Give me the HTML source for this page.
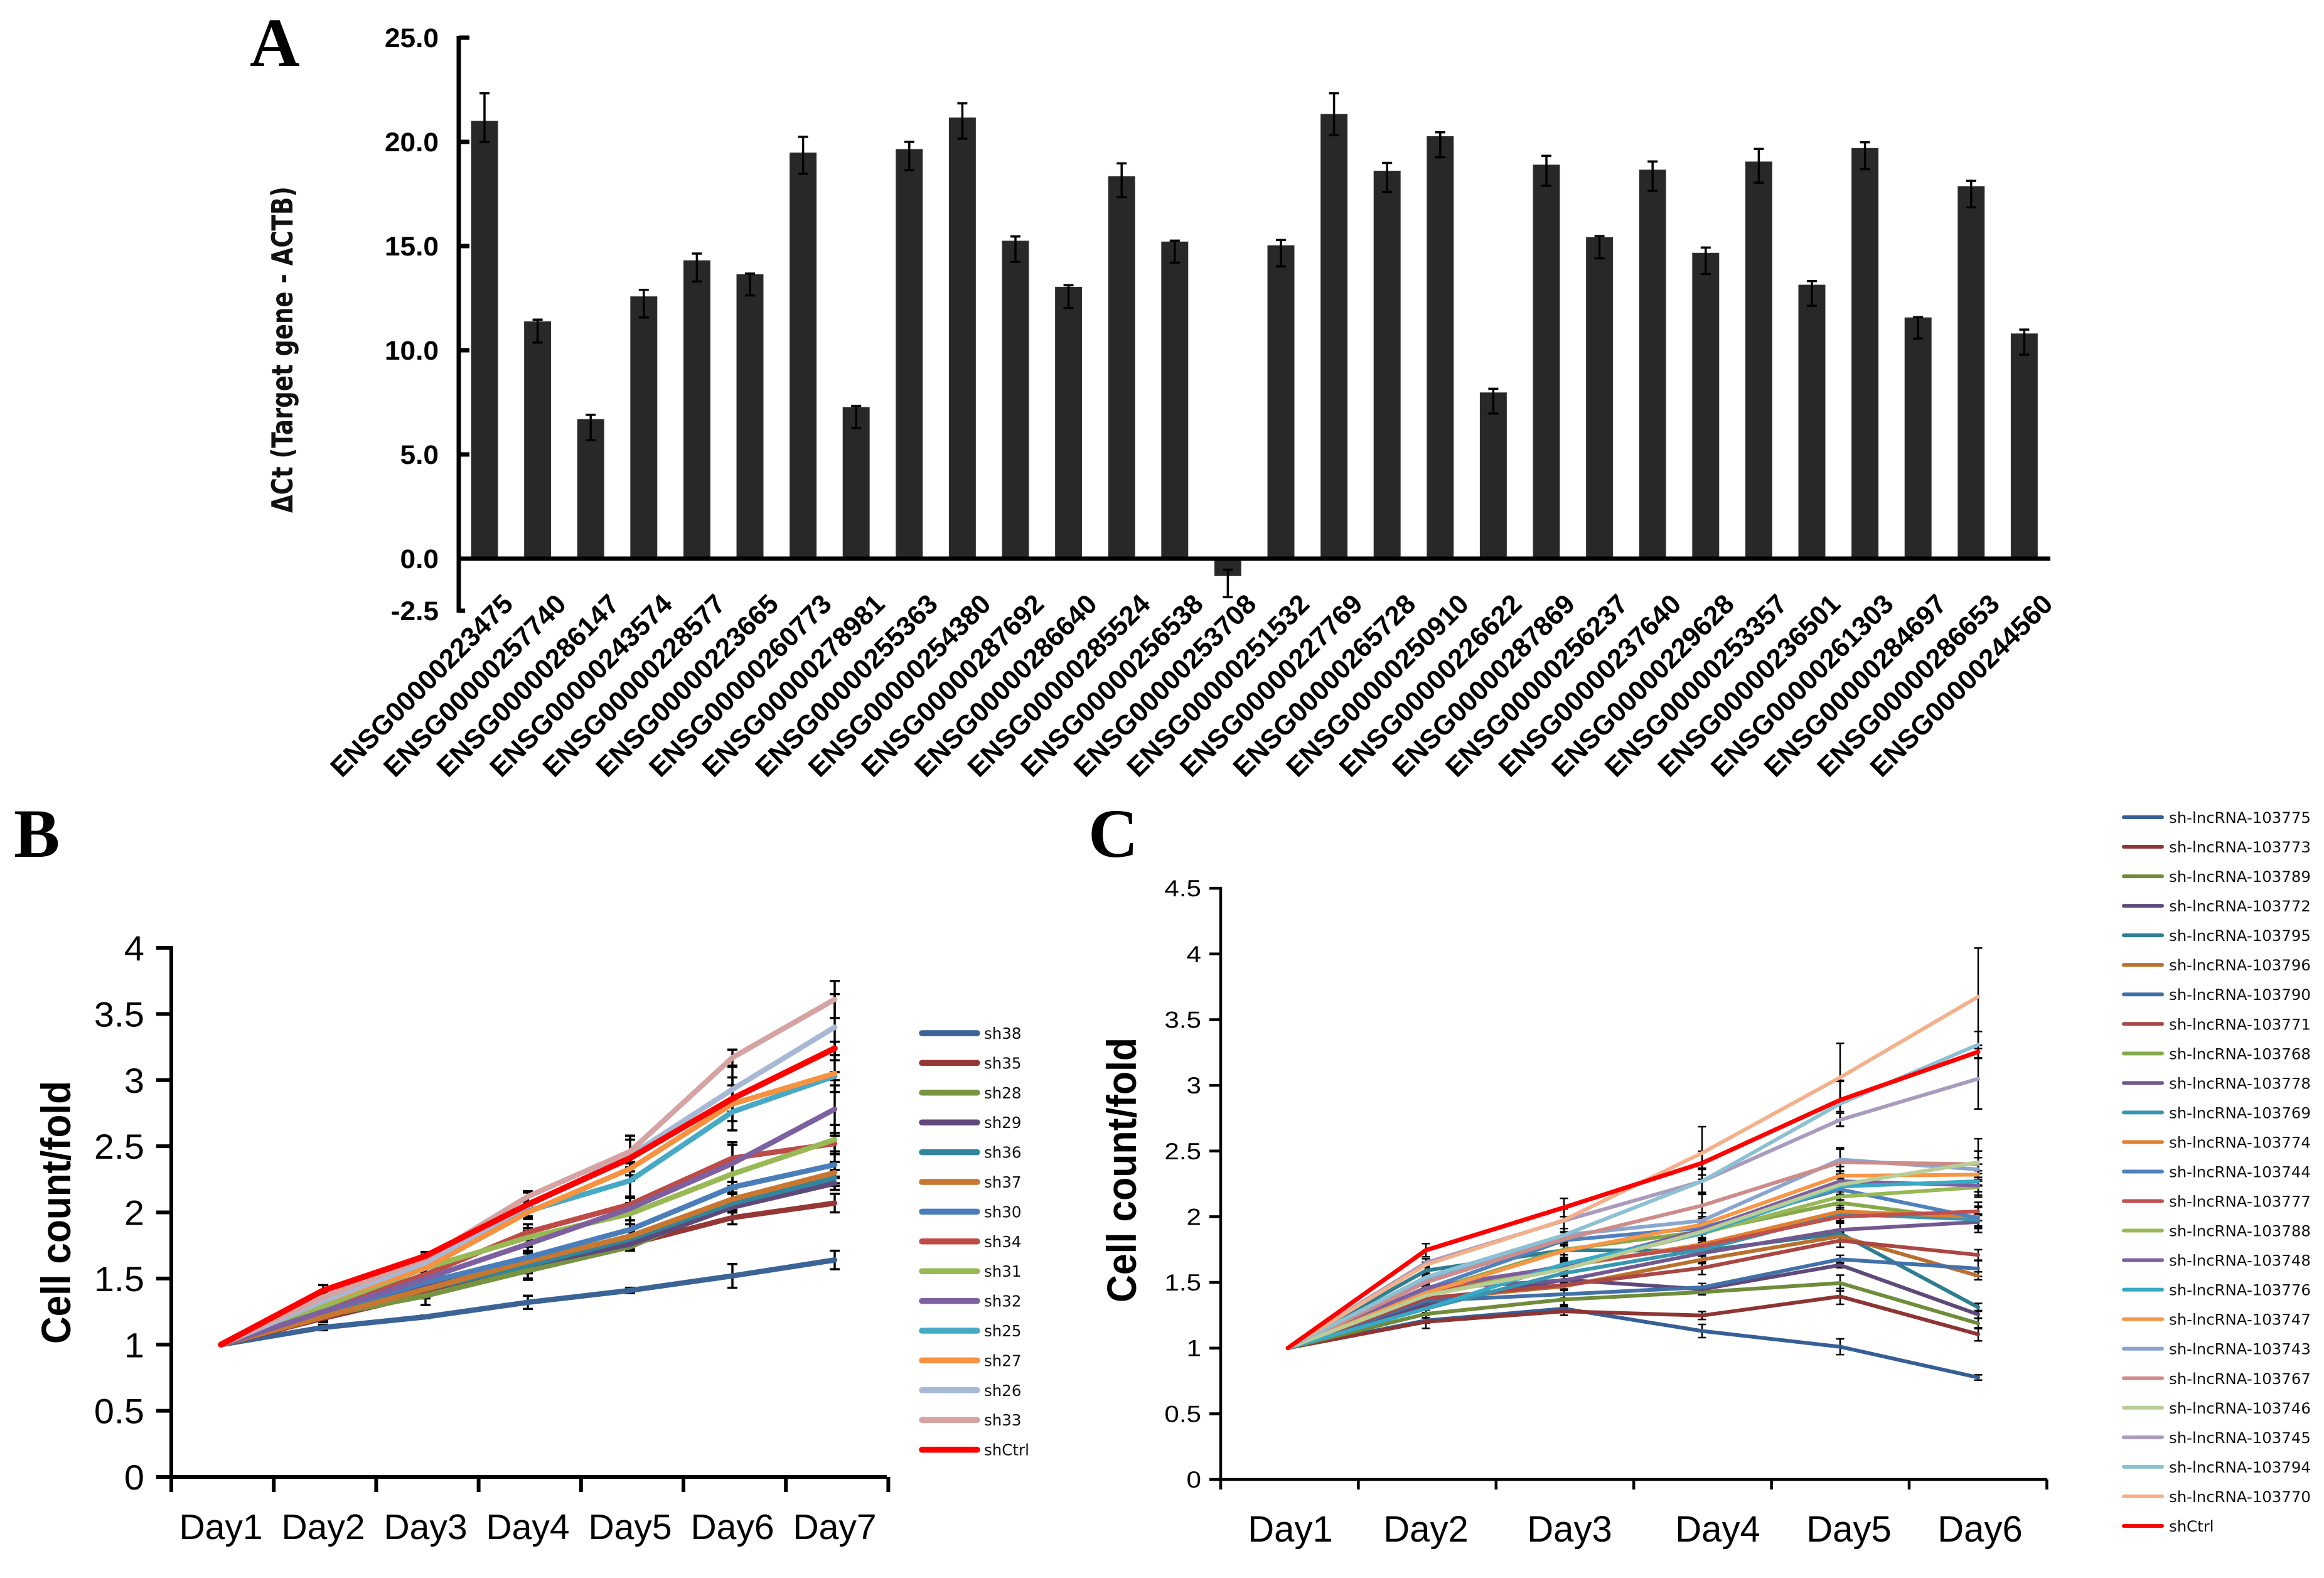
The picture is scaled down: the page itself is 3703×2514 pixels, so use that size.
<!DOCTYPE html>
<html lang="en">
<head>
<meta charset="utf-8">
<title>Panels A, B and C: lncRNA expression and cell growth</title>
<style>
html,body{margin:0;padding:0;background:#fff;}
svg{display:block;font-family:"Liberation Sans",Arial,sans-serif;}
</style>
</head>
<body>
<svg id="fig" xmlns="http://www.w3.org/2000/svg" width="3703" height="2514" viewBox="0 0 3703 2514">
  <rect x="0" y="0" width="3703" height="2514" fill="#fff"/>
  <g font-family="'Liberation Serif',serif" font-weight="bold" font-size="110" fill="#000">
    <text x="398" y="105">A</text>
    <text x="22" y="1365">B</text>
    <text x="1734" y="1365">C</text>
  </g>
  <text transform="translate(466,817) rotate(-90)" font-size="46" font-weight="bold" fill="#111" textLength="520" lengthAdjust="spacingAndGlyphs" font-family="'DejaVu Sans','Liberation Sans',sans-serif">ΔCt (Target gene - ACTB)</text>
  <text transform="translate(112,2141) rotate(-90)" font-size="66" font-weight="bold" fill="#000" textLength="419" lengthAdjust="spacingAndGlyphs">Cell count/fold</text>
  <text transform="translate(1810,2075) rotate(-90)" font-size="66" font-weight="bold" fill="#000" textLength="422" lengthAdjust="spacingAndGlyphs">Cell count/fold</text>
  <g font-size="58" fill="#000" text-anchor="middle">
    <text x="2056" y="2456">Day1</text>
    <text x="2272" y="2456">Day2</text>
    <text x="2501" y="2456">Day3</text>
    <text x="2737" y="2456">Day4</text>
    <text x="2946" y="2456">Day5</text>
    <text x="3155" y="2456">Day6</text>
  </g>
  <g id="panelA"></g>
  <g id="panelB"></g>
  <g id="panelC"></g>
</svg>
<script>
/* ---------- Panel A data ---------- */
const genesA = ["ENSG00000223475","ENSG00000257740","ENSG00000286147","ENSG00000243574","ENSG00000228577","ENSG00000223665","ENSG00000260773","ENSG00000278981","ENSG00000255363","ENSG00000254380","ENSG00000287692","ENSG00000286640","ENSG00000285524","ENSG00000256538","ENSG00000253708","ENSG00000251532","ENSG00000227769","ENSG00000265728","ENSG00000250910","ENSG00000226622","ENSG00000287869","ENSG00000256237","ENSG00000237640","ENSG00000229628","ENSG00000253357","ENSG00000236501","ENSG00000261303","ENSG00000284697","ENSG00000286653","ENSG00000244560"];
const deltaCt = [20.99,11.37,6.68,12.57,14.3,13.63,19.47,7.26,19.64,21.15,15.24,13.03,18.34,15.2,-0.82,15.02,21.32,18.6,20.26,7.96,18.89,15.41,18.65,14.66,19.04,13.13,19.69,11.56,17.86,10.79];
const errUpperA = [1.34,0.1,0.22,0.33,0.34,0.05,0.77,0.07,0.36,0.7,0.22,0.09,0.63,0.06,0.29,0.27,1.01,0.39,0.2,0.19,0.44,0.07,0.41,0.27,0.62,0.19,0.29,0.03,0.27,0.2];
const errLowerA = [1.0,1.0,1.0,1.0,1.0,1.0,1.0,1.0,1.0,1.0,1.0,1.0,1.0,1.0,1.03,1.0,1.0,1.0,1.0,1.0,1.0,1.0,1.0,1.0,1.0,1.0,1.0,1.0,1.0,1.0];
const ticksA = [25,20,15,10,5,0,-2.5];
const tickLabelsA = ["25.0","20.0","15.0","10.0","5.0","0.0","-2.5"];

/* ---------- Panel B data ---------- */
const daysB = ["Day1","Day2","Day3","Day4","Day5","Day6","Day7"];
const ticksB = [0,0.5,1,1.5,2,2.5,3,3.5,4];
const tickLabelsB = ["0","0.5","1","1.5","2","2.5","3","3.5","4"];
const namesB = ["sh38","sh35","sh28","sh29","sh36","sh37","sh30","sh34","sh31","sh32","sh25","sh27","sh26","sh33","shCtrl"];
const colorsB = ["#3a6495","#953735","#779441","#5f497a","#31859c","#c87730","#4a7ebb","#be4b48","#98b954","#7d60a0","#46aac5","#f69240","#a6b8d5","#d5a3a2","#ff0000"];
const valuesB = [
 [1,1.13,1.21,1.32,1.41,1.52,1.64],
 [1,1.2,1.38,1.58,1.76,1.96,2.07],
 [1,1.22,1.37,1.56,1.74,2.07,2.22],
 [1,1.22,1.44,1.6,1.76,2.04,2.22],
 [1,1.22,1.42,1.6,1.8,2.07,2.26],
 [1,1.21,1.42,1.63,1.82,2.1,2.3],
 [1,1.25,1.47,1.66,1.87,2.19,2.36],
 [1,1.27,1.53,1.85,2.06,2.41,2.52],
 [1,1.29,1.58,1.81,1.99,2.29,2.55],
 [1,1.25,1.5,1.76,2.03,2.37,2.78],
 [1,1.36,1.58,2.01,2.24,2.76,3.03],
 [1,1.33,1.58,2.0,2.33,2.82,3.05],
 [1,1.33,1.62,2.05,2.43,2.93,3.4],
 [1,1.36,1.65,2.12,2.46,3.17,3.61],
 [1,1.41,1.67,2.06,2.41,2.86,3.24]
];
const errorsB = [
 [0,0.02,0.01,0.05,0.02,0.09,0.07],
 [0,0.03,0.03,0.04,0.04,0.05,0.07],
 [0,0.03,0.07,0.07,0.03,0.07,0.05],
 [0,0.02,0.05,0.1,0.04,0.04,0.05],
 [0,0.02,0.04,0.05,0.05,0.07,0.06],
 [0,0.03,0.04,0.06,0.04,0.08,0.08],
 [0,0.03,0.04,0.05,0.07,0.04,0.1],
 [0,0.03,0.05,0.06,0.05,0.12,0.06],
 [0,0.04,0.05,0.07,0.08,0.09,0.11],
 [0,0.03,0.05,0.1,0.09,0.14,0.18],
 [0,0.03,0.04,0.05,0.13,0.07,0.03],
 [0,0.03,0.03,0.05,0.05,0.2,0.14],
 [0,0.02,0.03,0.03,0.12,0.17,0.25],
 [0,0.02,0.03,0.04,0.12,0.06,0.14],
 [0,0.04,0.03,0.09,0.17,0.1,0.05]
];

/* ---------- Panel C data ---------- */
const daysC = ["Day1","Day2","Day3","Day4","Day5","Day6"];
const ticksC = [0,0.5,1,1.5,2,2.5,3,3.5,4,4.5];
const tickLabelsC = ["0","0.5","1","1.5","2","2.5","3","3.5","4","4.5"];
const namesC = ["sh-lncRNA-103775","sh-lncRNA-103773","sh-lncRNA-103789","sh-lncRNA-103772","sh-lncRNA-103795","sh-lncRNA-103796","sh-lncRNA-103790","sh-lncRNA-103771","sh-lncRNA-103768","sh-lncRNA-103778","sh-lncRNA-103769","sh-lncRNA-103774","sh-lncRNA-103744","sh-lncRNA-103777","sh-lncRNA-103788","sh-lncRNA-103748","sh-lncRNA-103776","sh-lncRNA-103747","sh-lncRNA-103743","sh-lncRNA-103767","sh-lncRNA-103746","sh-lncRNA-103745","sh-lncRNA-103794","sh-lncRNA-103770","shCtrl"];
const colorsC = ["#355f95","#8e3533","#6f8c3a","#5f497a","#2e7d91","#b9702f","#4270a8","#aa4643","#85a84a","#71588f","#3796b0","#e08030","#4f81bd","#c0504d","#98b954","#7d5fa0","#3ba9c5","#f79646","#8aa6d0","#cd8c8a","#b9cd96","#a99bbd","#8cc0d3","#f4b08a","#ff0000"];
const valuesC = [
 [1,1.21,1.3,1.13,1.01,0.776],
 [1,1.2,1.28,1.248,1.393,1.105],
 [1,1.26,1.37,1.426,1.495,1.188],
 [1,1.33,1.52,1.448,1.632,1.256],
 [1,1.59,1.745,1.74,1.873,1.31],
 [1,1.37,1.47,1.673,1.851,1.55],
 [1,1.36,1.41,1.462,1.676,1.605],
 [1,1.38,1.48,1.61,1.818,1.709],
 [1,1.43,1.75,1.887,2.106,1.97],
 [1,1.45,1.515,1.722,1.9,1.96],
 [1,1.3,1.57,1.75,2.02,1.98],
 [1,1.42,1.62,1.79,2.04,2.0],
 [1,1.45,1.82,1.915,2.208,1.99],
 [1,1.41,1.63,1.777,2.0,2.04],
 [1,1.4,1.62,1.873,2.153,2.224],
 [1,1.46,1.62,1.9,2.27,2.238],
 [1,1.3,1.64,1.873,2.23,2.27],
 [1,1.42,1.74,1.94,2.312,2.32],
 [1,1.51,1.86,1.97,2.435,2.36],
 [1,1.5,1.83,2.085,2.414,2.4],
 [1,1.4,1.6,1.887,2.244,2.414],
 [1,1.65,1.97,2.27,2.737,3.05],
 [1,1.54,1.86,2.27,2.86,3.31],
 [1,1.634,1.975,2.485,3.06,3.675],
 [1,1.745,2.07,2.408,2.888,3.255]
];
const errorsC = [
 [0,0.02,0.02,0.05,0.06,0.02],
 [0,0.05,0.03,0.03,0.06,0.05],
 [0,0.03,0.04,0.02,0.06,0.04],
 [0,0.03,0.03,0.02,0.02,0.03],
 [0,0.03,0.06,0.03,0.03,0.03],
 [0,0.03,0.03,0.03,0.03,0.03],
 [0,0.03,0.03,0.03,0.03,0.06],
 [0,0.03,0.03,0.05,0.05,0.04],
 [0,0.03,0.04,0.05,0.05,0.05],
 [0,0.03,0.04,0.07,0.06,0.05],
 [0,0.03,0.05,0.05,0.05,0.1],
 [0,0.03,0.04,0.05,0.05,0.07],
 [0,0.04,0.04,0.05,0.08,0.08],
 [0,0.03,0.05,0.04,0.05,0.07],
 [0,0.03,0.05,0.05,0.06,0.06],
 [0,0.04,0.05,0.07,0.08,0.09],
 [0,0.04,0.05,0.05,0.06,0.08],
 [0,0.03,0.05,0.06,0.07,0.08],
 [0,0.04,0.05,0.06,0.09,0.09],
 [0,0.04,0.05,0.1,0.1,0.1],
 [0,0.03,0.05,0.07,0.08,0.18],
 [0,0.03,0.09,0.09,0.05,0.23],
 [0,0.03,0.05,0.1,0.17,0.1],
 [0,0.02,0.09,0.2,0.26,0.37],
 [0,0.05,0.07,0.09,0.15,0.05]
];

/* ---------- helpers ---------- */
const NS = "http://www.w3.org/2000/svg";
function make(parent, tag, props, text) {
  const node = document.createElementNS(NS, tag);
  for (const key in props) node.setAttribute(key, props[key]);
  if (text !== undefined) node.textContent = text;
  parent.appendChild(node);
  return node;
}
function slug(s) { return String(s).toLowerCase().replace(/[^a-z0-9]+/g, "-"); }

/* ---------- Panel A ---------- */
const panelA = document.getElementById("panelA");
function yA(v) { return 890 - v * 33.2; }
function xA(i) { return 772 + i * 84.6; }
genesA.forEach(function (gene, i) {
  const v = deltaCt[i];
  const top = Math.min(yA(v), yA(0));
  const h = Math.abs(yA(v) - yA(0));
  const bar = make(panelA, "rect", {x: xA(i) - 21, y: top, width: 42, height: h, fill: "#282828", stroke: "#333", "stroke-width": 1});
  
  
  const hi = yA(v + errUpperA[i]);
  const lo = yA(v - errLowerA[i]);
  const err = make(panelA, "path", {d: "M" + (xA(i) - 8) + " " + hi + "H" + (xA(i) + 8) + "M" + xA(i) + " " + hi + "V" + lo + "M" + (xA(i) - 8) + " " + lo + "H" + (xA(i) + 8), stroke: "#000", "stroke-width": 3.5, fill: "none"});
  
  
  const label = make(panelA, "text", {transform: "translate(" + (xA(i) + 48) + ",965) rotate(-45)", "text-anchor": "end", "font-size": 43.5, "font-weight": "bold", fill: "#000"}, gene);
  
  
});
const yAxisA = make(panelA, "line", {x1: 731, x2: 731, y1: yA(25) - 3, y2: yA(-2.5) + 3, stroke: "#000", "stroke-width": 7});


const xAxisA = make(panelA, "line", {x1: 728, x2: 3267, y1: yA(0), y2: yA(0), stroke: "#000", "stroke-width": 7});


ticksA.forEach(function (t, i) {
  const end = t === -2.5 ? 741 : 748;
  if (t !== 0) {
    const tick = make(panelA, "line", {x1: 731, x2: end, y1: yA(t), y2: yA(t), stroke: "#000", "stroke-width": 7});
    
    
  }
  const label = make(panelA, "text", {transform: "translate(699," + (yA(t) + 15) + ") scale(1.03,1)", "text-anchor": "end", "font-size": 43, "font-weight": "bold", fill: "#000"}, tickLabelsA[i]);
  
  
});

/* ---------- Line panels ---------- */
function drawLinePanel(cfg) {
  const root = cfg.root;
  cfg.values.forEach(function (series, s) {
    series.forEach(function (v, d) {
      const e = cfg.errors[s][d];
      if (!e) return;
      const x = cfg.x(d);
      const hi = cfg.y(v + e);
      const lo = cfg.y(v - e);
      const c = cfg.cap;
      const err = make(root, "path", {d: "M" + (x - c) + " " + hi + "H" + (x + c) + "M" + x + " " + hi + "V" + lo + "M" + (x - c) + " " + lo + "H" + (x + c), stroke: "#000", "stroke-width": cfg.errWidth, fill: "none"});
      
      
    });
  });
  cfg.values.forEach(function (series, s) {
    const d = series.map(function (v, i) { return (i ? "L" : "M") + cfg.x(i) + " " + cfg.y(v); }).join("");
    const line = make(root, "path", {d: d, fill: "none", stroke: cfg.colors[s], "stroke-width": cfg.names[s] === "shCtrl" ? cfg.lineWidth + 1 : cfg.lineWidth, "stroke-linecap": "round", "stroke-linejoin": "round"});
    
    
  });
  const yAxis = make(root, "line", {x1: cfg.axisX, x2: cfg.axisX, y1: cfg.y(cfg.ticks[cfg.ticks.length - 1]) - cfg.axisWidth / 2, y2: cfg.y(0) + cfg.axisWidth / 2, stroke: "#000", "stroke-width": cfg.axisWidth});
  
  
  const xAxis = make(root, "line", {x1: cfg.axisX, x2: cfg.axisEnd, y1: cfg.y(0), y2: cfg.y(0), stroke: "#000", "stroke-width": cfg.axisWidth});
  
  
  cfg.ticks.forEach(function (t, i) {
    const tick = make(root, "line", {x1: cfg.axisX - cfg.tickLen, x2: cfg.axisX, y1: cfg.y(t), y2: cfg.y(t), stroke: "#000", "stroke-width": cfg.axisWidth});
    
    
    const label = make(root, "text", {transform: "translate(" + cfg.labelRight + "," + (cfg.y(t) + cfg.labelDy) + ") scale(" + cfg.labelScale + ",1)", "text-anchor": "end", "font-size": cfg.labelSize, fill: "#000"}, cfg.tickLabels[i]);
    
    
  });
  for (let k = 0; k <= cfg.days.length + cfg.extraBands; k++) {
    const tx = cfg.axisX + k * cfg.band;
    const tick = make(root, "line", {x1: tx, x2: tx, y1: cfg.y(0), y2: cfg.y(0) + cfg.xTickLen, stroke: "#000", "stroke-width": cfg.axisWidth});
    
    
  }
  cfg.names.forEach(function (name, s) {
    const ly = cfg.legendY + s * cfg.legendStep;
    const g = make(root, "g", {});
    
    
    const sw = make(g, "line", {x1: cfg.legendX1, x2: cfg.legendX2, y1: ly, y2: ly, stroke: cfg.colors[s], "stroke-width": cfg.legendWidth, "stroke-linecap": "round"});
    
    
    const tx = make(g, "text", {x: cfg.legendTextX, y: ly + cfg.legendDy, "font-size": cfg.legendSize, "font-family": "'DejaVu Sans',sans-serif", fill: "#111"}, name);
    
    
  });
}

const panelB = document.getElementById("panelB");
daysB.forEach(function (day, i) {
  const label = make(panelB, "text", {x: 352 + i * 163, y: 2452, "text-anchor": "middle", "font-size": 57, fill: "#000"}, day);
  
  
});
drawLinePanel({
  id: "b", root: panelB, days: daysB, names: namesB, colors: colorsB, values: valuesB, errors: errorsB,
  ticks: ticksB, tickLabels: tickLabelsB, extraBands: 0,
  x: function (i) { return 352 + i * 163; },
  y: function (v) { return 2353 - v * 210.75; },
  cap: 8, errWidth: 3.5, lineWidth: 8.5, axisX: 273, axisEnd: 1413, axisWidth: 6, band: 163.2,
  tickLen: 24, xTickLen: 24, labelRight: 230, labelDy: 20, labelSize: 56, labelScale: 1.03,
  legendY: 1646, legendStep: 47.4, legendX1: 1469, legendX2: 1557, legendWidth: 9.5, legendTextX: 1568, legendDy: 9, legendSize: 24.5
});

const panelC = document.getElementById("panelC");
drawLinePanel({
  id: "c", root: panelC, days: daysC, names: namesC, colors: colorsC, values: valuesC, errors: errorsC,
  ticks: ticksC, tickLabels: tickLabelsC, extraBands: 0,
  x: function (i) { return 2052 + i * 220; },
  y: function (v) { return 2357 - v * 209.3; },
  cap: 6.5, errWidth: 2.5, lineWidth: 6, axisX: 1945, axisEnd: 3262, axisWidth: 4.5, band: 219.4,
  tickLen: 18, xTickLen: 16, labelRight: 1914, labelDy: 13, labelSize: 37, labelScale: 1.14,
  legendY: 1302, legendStep: 47.04, legendX1: 3384, legendX2: 3445, legendWidth: 6, legendTextX: 3456, legendDy: 9, legendSize: 24.4
});
</script>
</body>
</html>
